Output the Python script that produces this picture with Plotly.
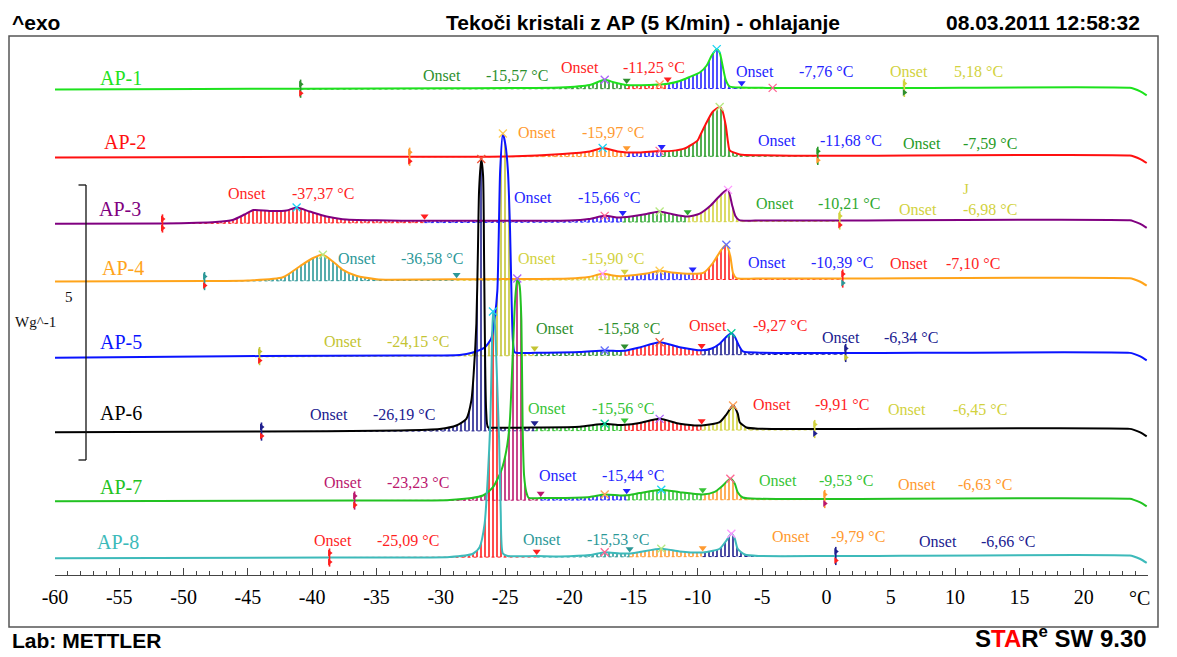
import numpy as np
import plotly.graph_objects as go

# ---------------------------------------------------------------------------
# Temperature axis (°C) and heat flow (W/g)
# ---------------------------------------------------------------------------
T_MIN, T_MAX = -60.0, 25.0
TICK_VALUES = [-60, -55, -50, -45, -40, -35, -30, -25, -20, -15, -10, -5, 0, 5, 10, 15, 20]
SCALE_BAR_WG = 5

# Each sample: baseline level at T_MIN / T_MAX, curve heights above that
# baseline, integration limits, peak temperatures and onset temperatures.

AP1_BASELINE = [8.827, 8.858]
AP1_T = [-60, -48.76, -40.9, -29.3, -20.75, -18.42, -17.25, -16.48, -15.54, -13.75,
         -12.98, -12.35, -11.42, -10.64, -9.86, -9.32, -8.93, -8.54, -8.31, -8.07,
         -7.84, -7.53, -6.6, -5.2, -4.19, 6.05, 23.59, 23.9, 24.4, 24.9]
AP1_H = [0, 0.005, 0.008, 0.011, 0.022, 0.067, 0.161, 0.111, 0.066, 0.066,
         0.075, 0.087, 0.138, 0.211, 0.291, 0.418, 0.6, 0.715, 0.655, 0.4,
         0.158, 0.036, 0.018, 0.011, 0.009, 0.005, 0, -0.018, -0.064, -0.136]
AP1_LIMITS = [-40.9, -15.54, -12.35, -6.6, 6.05]
AP1_PEAKS = [-17.25, -12.98, -8.54, -4.19]
AP1_ONSETS = [-15.57, -11.25, -7.76, 5.18]

AP2_BASELINE = [7.591, 7.627]
AP2_T = [-60, -40, -32.42, -25, -20.52, -18.42, -17.41, -16.24, -15.54, -14.53,
         -12.98, -12.82, -12.04, -11.03, -10.02, -9.86, -9.4, -8.85, -8.31, -8.11,
         -7.84, -7.66, -7.53, -6.75, -5.2, -0.68, 23.59, 23.9, 24.4, 24.9]
AP2_H = [0, 0.003, 0.002, 0.004, 0.047, 0.091, 0.155, 0.091, 0.073, 0.073,
         0.1, 0.095, 0.1, 0.145, 0.291, 0.364, 0.582, 0.81, 0.896, 0.836,
         0.564, 0.255, 0.109, 0.033, 0.018, 0.005, 0, -0.018, -0.064, -0.136]
AP2_LIMITS = [-32.42, -15.54, -12.82, -0.68]
AP2_PEAKS = [-17.41, -12.98, -8.31]
AP2_ONSETS = [-15.97, -11.68, -7.59]

AP3_BASELINE = [6.385, 6.449]
AP3_T = [-60, -51.64, -47.51, -46.19, -45.26, -44.56, -43.31, -41.99, -41.21, -40.2,
         -38.88, -37.64, -34.99, -31.26, -25, -19.98, -18.5, -17.25, -16.32, -15.85,
         -13.99, -12.98, -12.04, -10.8, -9.86, -9.01, -8.5, -8.0, -7.66, -7.35,
         -7.1, -6.79, -5.51, 1.03, 23.59, 23.9, 24.4, 24.9]
AP3_H = [0, 0, 0.024, 0.058, 0.158, 0.24, 0.22, 0.229, 0.282, 0.209,
         0.116, 0.067, 0.045, 0.033, 0.029, 0.03, 0.056, 0.113, 0.082, 0.085,
         0.145, 0.189, 0.142, 0.095, 0.149, 0.295, 0.422, 0.538, 0.578, 0.309,
         0.109, 0.027, 0.018, 0.015, 0, -0.018, -0.064, -0.136]
AP3_LIMITS = [-51.64, -31.26, -15.85, -10.8, 1.03]
AP3_PEAKS = [-41.21, -17.25, -12.98, -7.66]
AP3_ONSETS = [-37.37, -15.66, -10.21, -6.98]

AP4_BASELINE = [5.336, 5.396]
AP4_T = [-60, -48.37, -45, -42.28, -40.98, -39.97, -39.17, -38.39, -37.61, -36.57,
         -35.0, -33.98, -28.77, -25, -20, -18.5, -17.41, -16.32, -15.7, -13.99,
         -12.98, -12.04, -10.41, -9.55, -8.85, -8.18, -7.79, -7.48, -7.27, -7.01,
         -5.5, 1.26, 23.59, 23.9, 24.4, 24.9]
AP4_H = [0, 0, 0.007, 0.065, 0.26, 0.409, 0.471, 0.349, 0.196, 0.087,
         0.024, 0.013, 0.018, 0.02, 0.027, 0.053, 0.109, 0.069, 0.069, 0.113,
         0.162, 0.129, 0.105, 0.127, 0.296, 0.54, 0.631, 0.418, 0.115, 0.024,
         0.016, 0.011, 0, -0.018, -0.064, -0.136]
AP4_LIMITS = [-48.37, -28.77, -15.7, -10.41, 1.26]
AP4_PEAKS = [-39.17, -17.41, -12.98, -7.79]
AP4_ONSETS = [-36.58, -15.90, -10.39, -7.10]

AP5_BASELINE = [3.949, 4.040]
AP5_T = [-60, -48.76, -44.09, -33.2, -28.53, -27.5, -26.59, -26.07, -25.81, -25.6,
         -25.5, -25.38, -25.17, -24.96, -24.78, -24.61, -24.49, -24.39, -24.26, -23.87,
         -22.7, -19.2, -17.25, -16.24, -15.7, -14.53, -12.98, -11.42, -9.71, -8.93,
         -8.31, -7.84, -7.4, -7.14, -6.88, -6.5, -5.2, 1.49, 23.59, 23.9,
         24.4, 24.9]
AP5_H = [0, 0.013, 0.014, 0.013, 0.017, 0.062, 0.151, 0.315, 0.678, 1.18,
         2.09, 3.37, 4.04, 3.82, 3.37, 2.27, 1.0, 0.273, 0.064, 0.049,
         0.051, 0.062, 0.087, 0.078, 0.08, 0.14, 0.233, 0.14, 0.082, 0.115,
         0.2, 0.315, 0.391, 0.331, 0.198, 0.058, 0.035, 0.022, 0, -0.018,
         -0.064, -0.136]
AP5_LIMITS = [-44.09, -22.7, -15.7, -9.71, 1.49]
AP5_PEAKS = [-25.17, -17.25, -12.98, -7.4]
AP5_ONSETS = [-24.15, -15.58, -9.27, -6.34]

AP6_BASELINE = [2.596, 2.658]
AP6_T = [-60, -43.94, -33.2, -30.09, -28.79, -28.01, -27.62, -27.44, -27.23, -27.11,
         -27.02, -26.85, -26.71, -26.63, -26.55, -26.47, -26.33, -25.81, -22.7, -19.2,
         -17.25, -16.24, -15.7, -14.53, -12.98, -11.42, -9.71, -8.31, -7.79, -7.27,
         -6.91, -6.75, -6.23, -5.2, -0.92, 23.59, 23.9, 24.4, 24.9]
AP6_H = [0, 0, 0.011, 0.036, 0.099, 0.22, 0.553, 1.044, 1.953, 3.28,
         4.37, 4.945, 4.64, 3.1, 1.28, 0.371, 0.065, 0.055, 0.058, 0.069,
         0.122, 0.1, 0.102, 0.135, 0.209, 0.118, 0.085, 0.144, 0.284, 0.447,
         0.302, 0.144, 0.047, 0.024, 0.015, 0, -0.018, -0.064, -0.136]
AP6_LIMITS = [-43.94, -22.7, -15.7, -9.71, -0.92]
AP6_PEAKS = [-26.85, -17.25, -12.98, -7.27]
AP6_ONSETS = [-26.19, -15.56, -9.91, -6.45]

AP7_BASELINE = [1.342, 1.385]
AP7_T = [-60, -36.7, -29.31, -26.72, -25.94, -25.29, -24.9, -24.64, -24.39, -24.22,
         -24.05, -23.87, -23.73, -23.63, -23.52, -23.34, -23.17, -22.23, -20.75, -18.42,
         -17.25, -16.09, -15.54, -14.53, -12.85, -11.42, -9.63, -8.7, -8.15, -7.48,
         -7.14, -6.91, -6.52, -5.2, -0.14, 23.59, 23.9, 24.4, 24.9]
AP7_H = [0, 0, 0.006, 0.087, 0.237, 0.54, 0.904, 1.395, 2.722, 3.631,
         4.031, 3.904, 3.267, 1.267, 0.449, 0.14, 0.044, 0.038, 0.038, 0.056,
         0.1, 0.082, 0.084, 0.125, 0.184, 0.138, 0.096, 0.142, 0.24, 0.38,
         0.295, 0.136, 0.04, 0.016, 0.009, 0, -0.018, -0.064, -0.136]
AP7_LIMITS = [-36.7, -22.23, -15.54, -9.63, -0.14]
AP7_PEAKS = [-24.05, -17.25, -12.85, -7.48]
AP7_ONSETS = [-23.23, -15.44, -9.53, -6.63]

AP8_BASELINE = [0.305, 0.355]
AP8_T = [-60, -38.65, -29.31, -27.5, -26.98, -26.59, -26.33, -26.15, -26.04, -25.94,
         -25.81, -25.62, -25.46, -25.34, -25.17, -24.8, -22.54, -20.75, -18.42, -17.25,
         -16.09, -15.31, -14.53, -12.85, -11.42, -9.63, -8.31, -7.79, -7.4, -7.14,
         -6.91, -6.36, -5.2, 0.72, 23.59, 23.9, 24.4, 24.9]
AP8_H = [0, 0, 0.004, 0.062, 0.182, 0.605, 1.515, 2.429, 3.575, 4.465,
         4.302, 3.211, 2.12, 0.847, 0.065, 0.02, 0.018, 0.01, 0.033, 0.084,
         0.06, 0.06, 0.087, 0.144, 0.095, 0.075, 0.142, 0.291, 0.413, 0.327,
         0.14, 0.036, 0.009, 0.005, 0, -0.018, -0.064, -0.136]
AP8_LIMITS = [-38.65, -22.54, -15.31, -9.63, 0.72]
AP8_PEAKS = [-25.94, -17.25, -12.85, -7.4]
AP8_ONSETS = [-25.09, -15.53, -9.79, -6.66]

# ---------------------------------------------------------------------------
# Styling
# ---------------------------------------------------------------------------
RED = "#ff1f1f"
BLUE = "#2424ff"
NAVY = "#20208f"
DKGREEN = "#2e8f2e"
GREEN = "#36c436"
YELLOW = "#d2d23e"
ORANGE = "#ff9a30"
TEAL = "#2c9898"
MAGENTA = "#bb176e"

SERIF = "Liberation Serif, Times New Roman, serif"
SANS = "Liberation Sans, Arial, sans-serif"

# page layout in pixels
W, H = 1177, 657
PL, PR, PT, PB = 55, 29, 36, 82
PW, PH = W - PL - PR, H - PT - PB
PX_PER_WG = 55.0


def paper(xp, yp):
    return (xp - PL) / PW, (H - PB - yp) / PH


def page_text(text, xp, yp, font, xanchor="center"):
    px_, py_ = paper(xp, yp)
    fig.add_annotation(x=px_, y=py_, xref="paper", yref="paper", text=text,
                       showarrow=False, xanchor=xanchor, yanchor="middle", font=font)


# line colour, label position, segment colours, onset label placement
# (x of "Onset", x of value, y) in page pixels
STYLE = {
    "AP-1": dict(color="#1de21d", label=(121, 78), segs=[DKGREEN, RED, BLUE, YELLOW],
                 texts=[(441.5, 517, 75), (579.5, 654, 67), (755, 826, 71), (909, 978, 71)]),
    "AP-2": dict(color="#ff1010", label=(125, 142), segs=[ORANGE, BLUE, "#279b27"],
                 texts=[(536.7, 612.5, 132.3), (776.7, 851, 141), (922, 990, 143)]),
    "AP-3": dict(color="#800080", label=(120, 209), segs=[RED, BLUE, "#2fa82f", YELLOW],
                 texts=[(246.7, 322.5, 193.7), (533.3, 609, 197.7), (775, 849, 203.7), (918, 990, 210)]),
    "AP-4": dict(color="#ffa41a", label=(123, 267.5), segs=[TEAL, YELLOW, BLUE, RED],
                 texts=[(356.7, 432, 258.7), (536.7, 612.5, 258.5), (766.7, 842, 262.7), (909, 973, 263)]),
    "AP-5": dict(color="#0a14ff", label=(121, 342), segs=["#c4c433", DKGREEN, RED, NAVY],
                 texts=[(343, 418, 341), (554.7, 629, 328.5), (708.3, 779.7, 325), (840.7, 911, 337)]),
    "AP-6": dict(color="#000000", label=(121, 413), segs=[NAVY, GREEN, RED, YELLOW],
                 texts=[(328.7, 404, 414.3), (547, 622.5, 408.7), (771.7, 842, 404), (907, 980, 409)]),
    "AP-7": dict(color="#22c222", label=(121, 487), segs=[MAGENTA, BLUE, GREEN, ORANGE],
                 texts=[(343, 418, 482.3), (557.7, 633, 475.7), (778, 846, 480.7), (917, 985, 484)]),
    "AP-8": dict(color="#3dbaba", label=(118, 542), segs=[RED, TEAL, ORANGE, NAVY],
                 texts=[(333, 408, 540), (541.7, 617.5, 539.5), (790.7, 858, 536.7), (938, 1008, 541)]),
}

CURVES = [
    ("AP-1", AP1_BASELINE, AP1_T, AP1_H, AP1_LIMITS, AP1_PEAKS, AP1_ONSETS),
    ("AP-2", AP2_BASELINE, AP2_T, AP2_H, AP2_LIMITS, AP2_PEAKS, AP2_ONSETS),
    ("AP-3", AP3_BASELINE, AP3_T, AP3_H, AP3_LIMITS, AP3_PEAKS, AP3_ONSETS),
    ("AP-4", AP4_BASELINE, AP4_T, AP4_H, AP4_LIMITS, AP4_PEAKS, AP4_ONSETS),
    ("AP-5", AP5_BASELINE, AP5_T, AP5_H, AP5_LIMITS, AP5_PEAKS, AP5_ONSETS),
    ("AP-6", AP6_BASELINE, AP6_T, AP6_H, AP6_LIMITS, AP6_PEAKS, AP6_ONSETS),
    ("AP-7", AP7_BASELINE, AP7_T, AP7_H, AP7_LIMITS, AP7_PEAKS, AP7_ONSETS),
    ("AP-8", AP8_BASELINE, AP8_T, AP8_H, AP8_LIMITS, AP8_PEAKS, AP8_ONSETS),
]

SMOOTH = 0.6


def baseline_at(base, t):
    t = np.asarray(t, dtype=float)
    return base[0] + (base[1] - base[0]) * (t - T_MIN) / (T_MAX - T_MIN)


def value_at(T, Y, t):
    # the curve value at a tabulated temperature
    return Y[int(np.argmin(np.abs(T - t)))]


fig = go.Figure()
marker_traces = []

for name, base, t_list, h_list, limits, peaks, onsets in CURVES:
    st = STYLE[name]
    T = np.array(t_list, dtype=float)
    Y = baseline_at(base, T) + np.array(h_list, dtype=float)

    # hatched integration areas
    for k in range(len(limits) - 1):
        ta, tb = limits[k], limits[k + 1]
        col = st["segs"][k]
        fig.add_trace(go.Scatter(
            x=[ta, tb], y=list(baseline_at(base, [ta, tb])), mode="lines",
            line=dict(color=col, width=1, dash="dot"),
            hoverinfo="skip", showlegend=False))
        m = (T >= ta - 1e-9) & (T <= tb + 1e-9)
        fig.add_trace(go.Scatter(
            x=T[m], y=Y[m], mode="lines",
            line=dict(width=0, shape="spline", smoothing=SMOOTH, color=col),
            fill="tonexty", fillcolor=col,
            fillpattern=dict(shape="|", size=4, solidity=0.4, fgcolor=col,
                             bgcolor="rgba(0,0,0,0)", fillmode="replace"),
            hoverinfo="skip", showlegend=False))

    # the measured curve
    marker_traces.append(go.Scatter(
        x=T, y=Y, mode="lines", name=name,
        line=dict(color=st["color"], width=2, shape="spline", smoothing=SMOOTH),
        hoverinfo="skip", showlegend=False))

    # peak crosses
    for k, tp in enumerate(peaks):
        col = st["segs"][min(k, len(st["segs"]) - 1)]
        marker_traces.append(go.Scatter(
            x=[tp], y=[value_at(T, Y, tp)], mode="markers",
            marker=dict(symbol="x-thin-open", size=8, line=dict(width=1.3, color=col)),
            hoverinfo="skip", showlegend=False, cliponaxis=False))

    # integration limit flags and pins
    off = 4.5 / PX_PER_WG
    for k, tl in enumerate(limits):
        yv = value_at(T, Y, tl)
        if k == 0 or k == len(limits) - 1:
            top = st["segs"][-1] if k else st["segs"][0]
            bot = st["segs"][0] if k else RED
            marker_traces.append(go.Scatter(
                x=[tl], y=[yv], mode="markers",
                marker=dict(symbol="line-ns", size=13, line=dict(width=1.6, color=top)),
                hoverinfo="skip", showlegend=False, cliponaxis=False))
            marker_traces.append(go.Scatter(
                x=[tl, tl], y=[yv + off, yv - off], mode="markers",
                marker=dict(symbol="triangle-right", size=6, color=[top, bot]),
                hoverinfo="skip", showlegend=False, cliponaxis=False))
        else:
            col = st["segs"][k - 1]
            marker_traces.append(go.Scatter(
                x=[tl], y=[yv + off], mode="markers",
                marker=dict(symbol="triangle-down", size=7, color=col),
                hoverinfo="skip", showlegend=False, cliponaxis=False))

    # curve label
    page_text(name, *st["label"], font=dict(family=SERIF, size=20, color=st["color"]))

    # onset labels
    for k, (xo, xv, yt) in enumerate(st["texts"]):
        col = st["segs"][k]
        value = f"{onsets[k]:.2f}".replace(".", ",") + " °C"
        page_text("Onset", xo, yt, font=dict(family=SERIF, size=16, color=col))
        page_text(value, xv, yt, font=dict(family=SERIF, size=16, color=col))

for tr in marker_traces:
    fig.add_trace(tr)

# stray label above the AP-3 yellow onset
page_text("J", 966, 189, font=dict(family=SERIF, size=15, color=YELLOW))

# 5 W/g scale bar
bar_x = (86 - PL) / PW * (T_MAX - T_MIN) + T_MIN
tick_x = (78.5 - PL) / PW * (T_MAX - T_MIN) + T_MIN
bar_lo = (H - PB - 460) / PX_PER_WG
bar_hi = bar_lo + SCALE_BAR_WG
for seg in ([bar_x, bar_x, bar_lo, bar_hi], [tick_x, bar_x, bar_hi, bar_hi], [tick_x, bar_x, bar_lo, bar_lo]):
    fig.add_shape(type="line", xref="x", yref="y", x0=seg[0], x1=seg[1], y0=seg[2], y1=seg[3],
                  line=dict(color="#111111", width=1.3))
page_text(str(SCALE_BAR_WG), 68.5, 297, font=dict(family=SERIF, size=15, color="#111111"))
page_text("Wg^-1", 35, 322, font=dict(family=SERIF, size=15, color="#111111"))

# outer frame
fx0, fy1 = paper(9, 36)
fx1, fy0 = paper(1158, 627)
fig.add_shape(type="rect", xref="paper", yref="paper", x0=fx0, x1=fx1, y0=fy0, y1=fy1,
              line=dict(color="#555555", width=1.5), layer="above")

# header and footer texts
hdr = dict(family=SANS, size=21, color="#000000")
page_text("<b>^exo</b>", 9.5, 23, hdr, xanchor="left")
page_text("<b>Tekoči kristali z AP (5 K/min) - ohlajanje</b>", 643, 23, hdr)
page_text("<b>08.03.2011 12:58:32</b>", 1142, 23, hdr, xanchor="right")
page_text("<b>Lab: METTLER</b>", 9.5, 640, hdr, xanchor="left")
page_text("<b>S<span style='color:#ff0000'>TA</span>R<sup>e</sup> SW 9.30</b>", 1149, 637,
          dict(family=SANS, size=24, color="#000000"), xanchor="right")

# unit at the end of the temperature axis
page_text("°C", 1139, 598, font=dict(family=SERIF, size=20, color="#000000"))

fig.update_xaxes(range=[T_MIN, T_MAX], showgrid=False, zeroline=False,
                 showline=True, linecolor="#444444", linewidth=1.3,
                 tickmode="array", tickvals=TICK_VALUES, ticktext=[str(v) for v in TICK_VALUES],
                 ticks="inside", ticklen=7, tickwidth=1, tickcolor="#444444",
                 minor=dict(dtick=1, tick0=0, ticks="inside", ticklen=4, tickwidth=1,
                            tickcolor="#444444", showgrid=False),
                 tickfont=dict(family=SERIF, size=20, color="#000000"),
                 ticklabelstandoff=4)
fig.update_yaxes(range=[0, PH / PX_PER_WG], visible=False)

fig.update_layout(width=W, height=H, margin=dict(l=PL, r=PR, t=PT, b=PB),
                  paper_bgcolor="white", plot_bgcolor="white", showlegend=False)

fig.write_html("out.html")
